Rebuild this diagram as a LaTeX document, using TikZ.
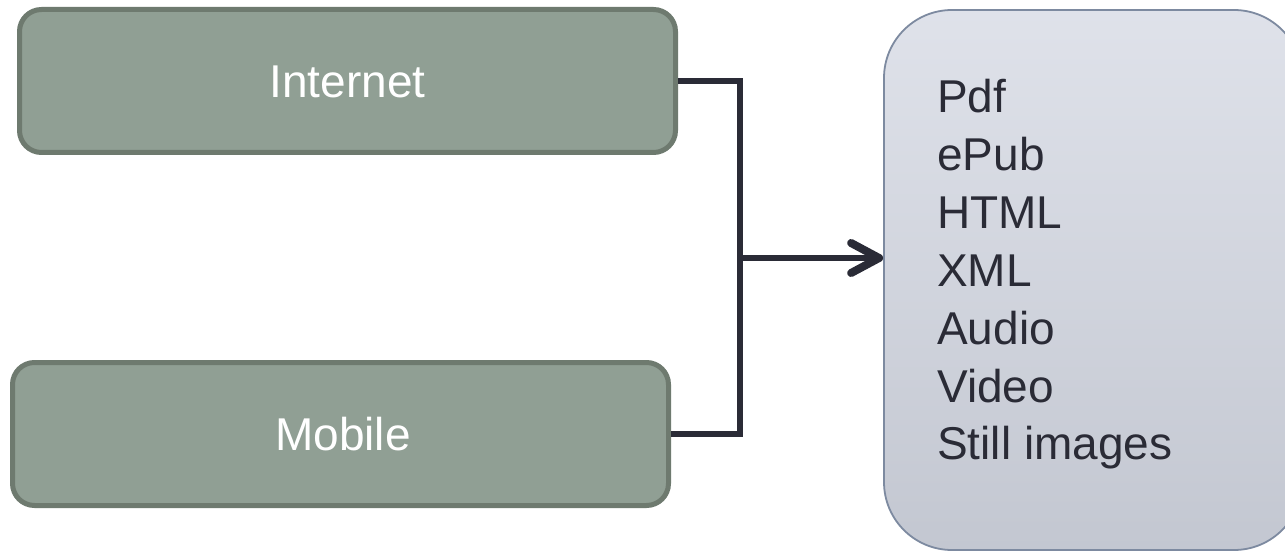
\documentclass[tikz,border=0pt]{standalone}
\usepackage{fontspec}
\setmainfont{Liberation Sans}
\usetikzlibrary{arrows.meta}
\definecolor{boxfill}{HTML}{909F94}
\definecolor{boxline}{HTML}{6E7A6F}
\definecolor{conn}{HTML}{2A2B36}
\definecolor{rtop}{HTML}{DFE2EA}
\definecolor{rbot}{HTML}{C3C7D1}
\definecolor{rline}{HTML}{7D8AA0}
\tikzset{
  greenbox/.style={draw=boxline, fill=boxfill, line width=5pt, rounded corners=22pt, inner sep=0pt},
  listbox/.style={draw=rline, line width=1.8pt, rounded corners=68pt, top color=rtop, bottom color=rbot, inner sep=0pt},
  boxlabel/.style={anchor=base, text=white, inner sep=0pt, font=\fontsize{46}{55}\selectfont},
  listitem/.style={anchor=base west, text=conn, inner sep=0pt, font=\fontsize{46}{58}\selectfont},
  connector/.style={draw=conn, line width=6.5pt, line join=miter},
}
\begin{document}
\begin{tikzpicture}[x=1pt,y=-1pt]
\clip (0,0) rectangle (1285,553);
\fill[white] (0,0) rectangle (1285,553);
\node[greenbox, minimum width=656pt, minimum height=143pt] (inet) at (347.5,81) {};
\node[greenbox, minimum width=656pt, minimum height=143pt] (mob) at (340.5,434) {};
\node[boxlabel] (inettxt) at (347.5,98) {Internet};
\node[boxlabel] (mobtxt) at (343,450) {Mobile};
\node[listbox, minimum width=418pt, minimum height=540pt] (rb) at (1093,280) {};
\foreach \t [count=\i from 0] in {Pdf,ePub,HTML,XML,Audio,Video,Still images}{
  \node[listitem] (item\i) at (937,113+57.8*\i) {\t};
}
\coordinate (jt) at (740,81);
\coordinate (jb) at (740,434);
\coordinate (jm) at (740,258);
\draw[connector] (inet.east) -- (jt) -- (jb) -- (mob.east);
\draw[connector, -{Straight Barb[length=28pt,width=30pt,line width=8pt,round]}] (jm) -- (rb.west |- jm);
\end{tikzpicture}
\end{document}
